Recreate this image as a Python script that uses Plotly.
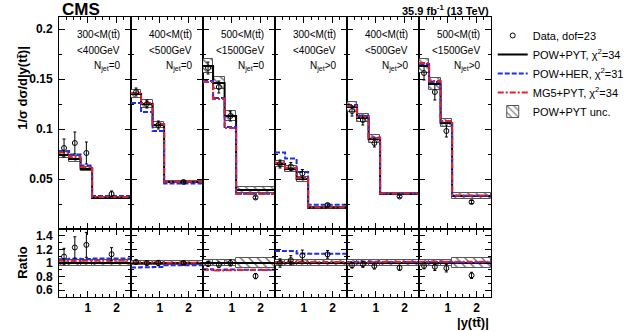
import plotly.graph_objects as go
from plotly.subplots import make_subplots

# ---------------- data ----------------
bin_edges = [0.0, 0.35, 0.75, 1.15, 2.5]

mass_low = ["300<M(tt\u0304)", "400<M(tt\u0304)", "500<M(tt\u0304)",
            "300<M(tt\u0304)", "400<M(tt\u0304)", "500<M(tt\u0304)"]
mass_high = ["<400GeV", "<500GeV", "<1500GeV", "<400GeV", "<500GeV", "<1500GeV"]
njet_labels = ["N<sub>jet</sub>=0", "N<sub>jet</sub>=0", "N<sub>jet</sub>=0",
               "N<sub>jet</sub>>0", "N<sub>jet</sub>>0", "N<sub>jet</sub>>0"]

# 6 panels x 4 bins of |y(tt)|
data_vals = [0.081, 0.086, 0.076, 0.035,
             0.137, 0.125, 0.104, 0.047,
             0.161, 0.142, 0.113, 0.0315,
             0.065, 0.0625, 0.0555, 0.024,
             0.118, 0.109, 0.086, 0.0325,
             0.156, 0.137, 0.098, 0.027]
data_errs = [0.009, 0.011, 0.011, 0.003,
             0.004, 0.004, 0.004, 0.0012,
             0.006, 0.006, 0.005, 0.0015,
             0.004, 0.004, 0.004, 0.0012,
             0.005, 0.005, 0.004, 0.0012,
             0.007, 0.008, 0.006, 0.0015]
pow_pyt = [0.074, 0.070, 0.060, 0.031,
           0.135, 0.125, 0.104, 0.047,
           0.163, 0.146, 0.113, 0.039,
           0.065, 0.060, 0.050, 0.0213,
           0.122, 0.111, 0.090, 0.035,
           0.163, 0.145, 0.106, 0.033]
pow_her = [0.078, 0.0745, 0.0635, 0.0330,
           0.126, 0.117, 0.098, 0.0455,
           0.148, 0.131, 0.102, 0.0352,
           0.0765, 0.0705, 0.057, 0.0242,
           0.124, 0.113, 0.0915, 0.0355,
           0.165, 0.147, 0.1075, 0.0332]
mg5_pyt = [0.0765, 0.072, 0.062, 0.0320,
           0.136, 0.126, 0.105, 0.0472,
           0.147, 0.130, 0.101, 0.0350,
           0.066, 0.061, 0.051, 0.0216,
           0.123, 0.112, 0.091, 0.0356,
           0.166, 0.148, 0.108, 0.0336]
pow_unc_rel = [0.04, 0.04, 0.04, 0.04,
               0.03, 0.03, 0.03, 0.03,
               0.04, 0.04, 0.04, 0.07,
               0.05, 0.05, 0.05, 0.05,
               0.04, 0.04, 0.04, 0.04,
               0.04, 0.04, 0.04, 0.08]

FONT = "Liberation Sans"
BLUE = "#1c2fe6"
RED = "#e4202c"
W, H = 641, 331
L, R, T, B = 59, 535, 17, 297


def px_x(px):
    return (px - L) / (R - L)


def px_y(py):
    return 1 - (py - T) / (B - T)


fig = make_subplots(rows=2, cols=6, horizontal_spacing=0, vertical_spacing=0,
                    row_heights=[212, 68])

nb = len(bin_edges) - 1
centers = [(bin_edges[i] + bin_edges[i + 1]) / 2 for i in range(nb)]
widths = [bin_edges[i + 1] - bin_edges[i] for i in range(nb)]

for p in range(6):
    col = p + 1
    sl = slice(p * nb, (p + 1) * nb)
    dv, de = data_vals[sl], data_errs[sl]
    pw, hw, mg, un = pow_pyt[sl], pow_her[sl], mg5_pyt[sl], pow_unc_rel[sl]
    first = p == 0
    for row in (1, 2):
        show = first and row == 1
        ref = [1.0] * nb if row == 1 else pw
        scale = pw if row == 1 else [1.0] * nb
        # POW+PYT uncertainty band (hatched)
        fig.add_trace(go.Bar(
            x=centers, width=widths,
            base=[s * (1 - u) for s, u in zip(scale, un)],
            y=[2 * s * u for s, u in zip(scale, un)],
            marker=dict(color="white",
                        line=dict(color="#444444", width=1),
                        pattern=dict(shape="\\", fgcolor="#555555", bgcolor="white",
                                     fillmode="replace", size=6, solidity=0.22)),
            opacity=0.9,
            name="POW+PYT unc.", legendgroup="unc", showlegend=show, legendrank=5,
            hoverinfo="skip"), row=row, col=col)
        for vals, nm, color, dash, rank in (
                (pw, "POW+PYT, \u03c7<sup>2</sup>=34", "black", "solid", 2),
                (hw, "POW+HER, \u03c7<sup>2</sup>=31", BLUE, "5px,2px", 3),
                (mg, "MG5+PYT, \u03c7<sup>2</sup>=34", RED, "6px,2px,2px,2px", 4)):
            yv = [v / r for v, r in zip(vals, ref)]
            fig.add_trace(go.Scatter(
                x=bin_edges, y=yv + [yv[-1]], mode="lines", line_shape="hv",
                line=dict(color=color, width=2, dash=dash),
                name=nm, legendgroup=nm, showlegend=show, legendrank=rank),
                row=row, col=col)
        fig.add_trace(go.Scatter(
            x=centers, y=[v / r for v, r in zip(dv, ref)], mode="markers",
            marker=dict(symbol="circle-open", size=5, color="black", line=dict(width=1)),
            error_y=dict(type="data", array=[e / r for e, r in zip(de, ref)],
                         color="black", thickness=1, width=1.5),
            name="Data, dof=23", legendgroup="data", showlegend=show, legendrank=1),
            row=row, col=col)

    # panel labels
    xr = f"x{col if col > 1 else ''}"
    for txt, py in ((mass_low[p], 34), (mass_high[p], 50), (njet_labels[p], 66)):
        fig.add_annotation(text=txt, x=2.5, xref=xr, xshift=-9, xanchor="right",
                           y=px_y(py), yref="paper", yanchor="middle", showarrow=False,
                           font=dict(family=FONT, size=10, color="black"))

tickfont = dict(family=FONT, size=12, color="black", weight="bold")
for row in (1, 2):
    for col in range(1, 7):
        fig.update_xaxes(row=row, col=col, range=[0, 2.5], showline=True, mirror="ticks",
                         linecolor="black", linewidth=1, ticks="inside", ticklen=6,
                         tickcolor="black", tickvals=[1, 2], ticktext=["1", "2"],
                         showticklabels=(row == 2), tickfont=tickfont, showgrid=False,
                         zeroline=False,
                         minor=dict(ticks="inside", dtick=0.25, tick0=0, ticklen=3,
                                    tickcolor="black", showgrid=False))
        if row == 1:
            fig.update_yaxes(row=row, col=col, range=[0, 0.212], tickvals=[0.05, 0.1, 0.15, 0.2],
                             ticktext=["0.05", "0.1", "0.15", "0.2"],
                             minor=dict(ticks="inside", tickvals=[0.025, 0.075, 0.125, 0.175],
                                        ticklen=3, tickcolor="black", showgrid=False))
        else:
            fig.update_yaxes(row=row, col=col, range=[0.5, 1.5], tickvals=[0.6, 0.8, 1, 1.2, 1.4],
                             ticktext=["0.6", "0.8", "1", "1.2", "1.4"],
                             minor=dict(ticks="inside", tickvals=[0.7, 0.9, 1.1, 1.3],
                                        ticklen=3, tickcolor="black", showgrid=False))
        fig.update_yaxes(row=row, col=col, showline=True, mirror="ticks", linecolor="black",
                         linewidth=1, ticks="inside", ticklen=6, tickcolor="black",
                         showticklabels=(col == 1), tickfont=tickfont, showgrid=False,
                         zeroline=False, ticklabelstandoff=3)

# titles and labels
fig.add_annotation(text="<b>CMS</b>", x=px_x(60), y=px_y(9), xref="paper", yref="paper",
                   xanchor="left", yanchor="middle", showarrow=False,
                   font=dict(family=FONT, size=17, color="black"))
fig.add_annotation(text="<b>35.9 fb<sup>-1</sup> (13 TeV)</b>", x=1.0, y=px_y(10), xref="paper",
                   yref="paper", xanchor="right", yanchor="middle", showarrow=False,
                   font=dict(family=FONT, size=11, color="black"))
fig.add_annotation(text="<b>1/\u03c3 d\u03c3/d|y(tt\u0304)|</b>", textangle=-90, x=px_x(18),
                   y=px_y(88), xref="paper", yref="paper", xanchor="center", yanchor="middle",
                   showarrow=False, font=dict(family=FONT, size=13, color="black"))
fig.add_annotation(text="<b>Ratio</b>", textangle=-90, x=px_x(18), y=px_y(262), xref="paper",
                   yref="paper", xanchor="center", yanchor="middle", showarrow=False,
                   font=dict(family=FONT, size=13, color="black"))
fig.add_annotation(text="<b>|y(tt\u0304)|</b>", x=1.0, y=px_y(323), xref="paper", yref="paper",
                   xanchor="right", yanchor="middle", showarrow=False,
                   font=dict(family=FONT, size=13, color="black"))

fig.update_layout(
    width=W, height=H, margin=dict(l=L, r=W - R, t=T, b=H - B),
    paper_bgcolor="white", plot_bgcolor="white", barmode="overlay", bargap=0,
    font=dict(family=FONT, size=11, color="black"),
    legend=dict(x=1.004, y=px_y(21), xanchor="left", yanchor="top",
                font=dict(family=FONT, size=11, color="black"),
                itemwidth=30, tracegroupgap=8, bgcolor="rgba(255,255,255,0)",
                traceorder="normal"),
    showlegend=True,
)

fig.write_html("out.html")
